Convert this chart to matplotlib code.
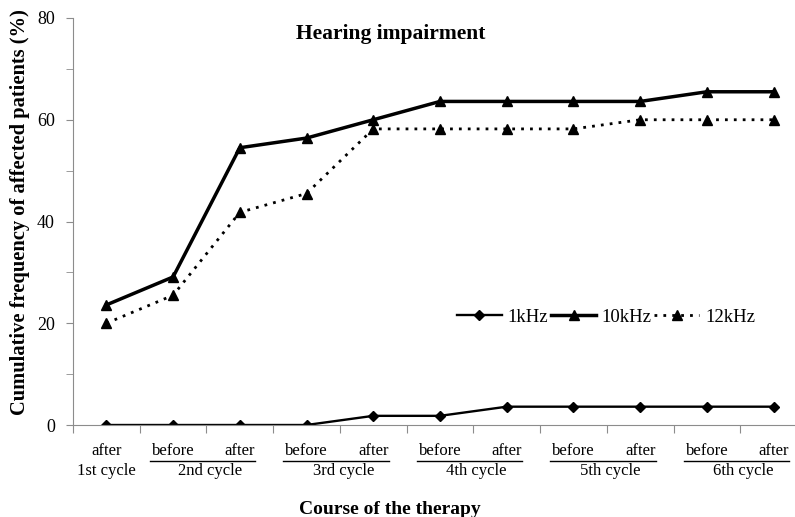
import matplotlib
matplotlib.use('Agg')
import matplotlib.pyplot as plt
import matplotlib.transforms as mtransforms

plt.rcParams['font.family'] = ['Liberation Serif', 'DejaVu Serif']

# 数据
stages = ['after', 'before', 'after', 'before', 'after', 'before', 'after',
          'before', 'after', 'before', 'after']
cycles = ['1st cycle', '2nd cycle', '3rd cycle', '4th cycle', '5th cycle', '6th cycle']
khz1 = [0, 0, 0, 0, 1.8, 1.8, 3.6, 3.6, 3.6, 3.6, 3.6]
khz10 = [23.6, 29.1, 54.5, 56.4, 60.0, 63.6, 63.6, 63.6, 63.6, 65.5, 65.5]
khz12 = [20.0, 25.5, 41.8, 45.5, 58.2, 58.2, 58.2, 58.2, 60.0, 60.0, 60.0]

fig = plt.figure(figsize=(7.95, 5.17), dpi=100)
ax = fig.add_axes([73 / 795, 92 / 517, 734 / 795, 407 / 517])

x = list(range(len(stages)))
ax.plot(x, khz1, color='black', lw=1.7, marker='D', ms=5.5, label='1kHz')
ax.plot(x, khz10, color='black', lw=2.5, marker='^', ms=7, label='10kHz')
ax.plot(x, khz12, color='black', lw=2, ls=(0, (1, 2.2)), marker='^', ms=7, label='12kHz')

ax.set_xlim(-0.5, 10.5)
ax.set_ylim(0, 80)
ax.set_yticks([0, 20, 40, 60, 80])
ax.set_yticks([10, 30, 50, 70], minor=True)
ax.set_xticks([i - 0.5 for i in range(len(stages))])
ax.set_xticklabels([])
for s in ['top', 'right']:
    ax.spines[s].set_visible(False)
for s in ['left', 'bottom']:
    ax.spines[s].set_color('#8c8c8c')
ax.tick_params(axis='y', which='both', length=5, color='#8c8c8c', labelsize=13, pad=8)
ax.tick_params(axis='x', length=6, color='#8c8c8c')

# x轴分组标签
trans = mtransforms.blended_transform_factory(ax.transData, fig.transFigure)
row1 = 1 - 451 / 517
row2 = 1 - 471 / 517
uline = 1 - 461 / 517
for i, s in enumerate(stages):
    ax.text(i, row1, s, transform=trans, ha='center', va='center', fontsize=12)
ax.text(0, row2, cycles[0], transform=trans, ha='center', va='center', fontsize=12)
for k in range(1, len(cycles)):
    b = 2 * k - 1
    ax.text(b + 0.55, row2, cycles[k], transform=trans, ha='center', va='center', fontsize=12)
    ax.plot([b - 0.35, b + 1.23], [uline, uline], transform=trans, color='black',
            lw=1, clip_on=False)

fig.text(391 / 795, 1 - 34 / 517, 'Hearing impairment', ha='center', va='center',
         fontsize=15.5, fontweight='bold')
fig.text(390 / 795, 1 - 509 / 517, 'Course of the therapy', ha='center', va='center',
         fontsize=14, fontweight='bold')
fig.text(20 / 795, 1 - 212 / 517, 'Cumulative frequency of affected patients (%)',
         ha='center', va='center', rotation=90, fontsize=14.8, fontweight='bold')

ax.legend(loc='center', bbox_to_anchor=(606 / 795, 1 - 317 / 517),
          bbox_transform=fig.transFigure, ncol=3, frameon=False, fontsize=13.5,
          handlelength=2.4, handletextpad=0.3, columnspacing=0.15)

fig.savefig('out.png', dpi=100)
